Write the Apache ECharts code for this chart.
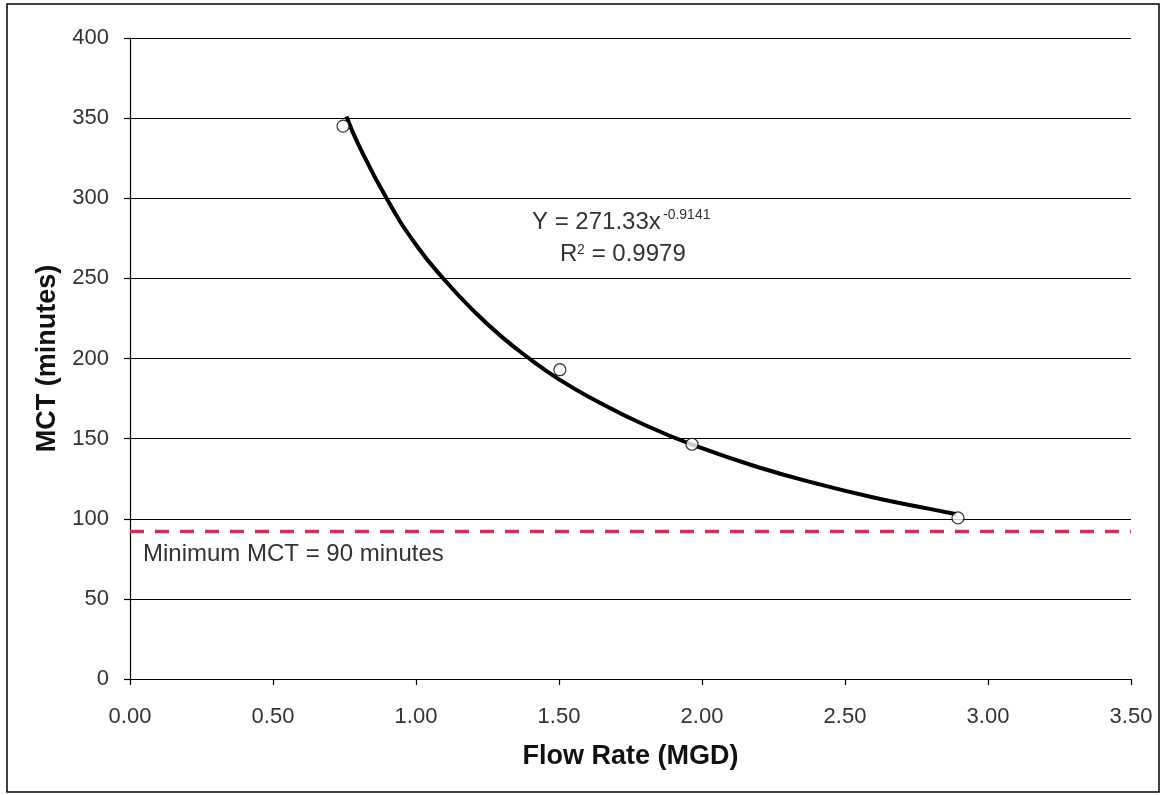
<!DOCTYPE html>
<html>
<head>
<meta charset="utf-8">
<script src="https://cdn.jsdelivr.net/npm/echarts@6/dist/echarts.min.js"></script>
<style>
html,body{margin:0;padding:0;background:#fff;}
#c{width:1164px;height:795px;}
</style>
</head>
<body>
<div id="c"></div>
<script>
// Observed data points (Flow Rate MGD, MCT minutes)
const pointX = [0.745, 1.503, 1.965, 2.895];
const pointY = [345, 193, 146.5, 100.5];

// Power trendline
const trendX = [0.757, 0.8, 0.9, 1.0, 1.1, 1.2, 1.3, 1.4, 1.5, 1.6, 1.8, 2.0, 2.2, 2.4, 2.6, 2.8, 2.89];
const trendY = [351, 333, 299, 271, 249, 230, 213.5, 199.5, 187, 176.5, 158.5, 144, 132, 122, 113.3, 106, 102.8];

// Minimum MCT reference line
const minLineX = [0, 3.5];
const minLineY = [92, 92];

// Axis ticks
const xTicks = [0, 0.5, 1, 1.5, 2, 2.5, 3, 3.5];
const yTicks = [0, 50, 100, 150, 200, 250, 300, 350, 400];

const FONT = '"Liberation Sans", Arial, sans-serif';
const TXT = '#333333';
const chart = echarts.init(document.getElementById('c'), null, {renderer: 'canvas'});

const option = {
  backgroundColor: '#ffffff',
  animation: false,
  grid: {left: 130, right: 33, top: 38, bottom: 116, containLabel: false},
  xAxis: {
    type: 'value',
    min: xTicks[0], max: xTicks[xTicks.length - 1], interval: 0.5,
    name: 'Flow Rate (MGD)', nameLocation: 'middle', nameGap: 64,
    nameTextStyle: {fontFamily: FONT, fontSize: 27, fontWeight: 'bold', color: '#111'},
    axisLine: {show: true, onZero: false, lineStyle: {color: '#000', width: 1.2}},
    axisTick: {show: true, inside: false, length: 6, lineStyle: {color: '#000', width: 1.2}},
    axisLabel: {fontFamily: FONT, fontSize: 22, color: TXT, margin: 27,
      formatter: v => v.toFixed(2)},
    splitLine: {show: false}
  },
  yAxis: {
    type: 'value',
    min: yTicks[0], max: yTicks[yTicks.length - 1], interval: 50,
    name: 'MCT (minutes)', nameLocation: 'middle', nameGap: 69, nameRotate: 90,
    nameTextStyle: {fontFamily: FONT, fontSize: 27, fontWeight: 'bold', color: '#111'},
    axisLine: {show: true, onZero: false, lineStyle: {color: '#000', width: 1.2}},
    axisTick: {show: true, inside: false, length: 6, lineStyle: {color: '#000', width: 1.2}},
    axisLabel: {fontFamily: FONT, fontSize: 22, color: TXT, margin: 21},
    splitLine: {show: true, lineStyle: {color: '#000', width: 1.2}}
  },
  series: [
    {
      name: 'Minimum MCT', type: 'line',
      data: minLineX.map((x, i) => [x, minLineY[i]]),
      symbol: 'none',
      lineStyle: {color: '#c8355c', width: 3.5, type: [14, 11]},
      z: 3
    },
    {
      name: 'Trend', type: 'line', smooth: true,
      data: trendX.map((x, i) => [x, trendY[i]]),
      symbol: 'none',
      lineStyle: {color: '#000', width: 4},
      z: 4
    },
    {
      name: 'MCT', type: 'scatter',
      data: pointX.map((x, i) => [x, pointY[i]]),
      symbol: 'circle', symbolSize: 12,
      itemStyle: {color: '#fff', borderColor: '#000', borderWidth: 1.2},
      z: 5
    }
  ],
  graphic: [
    {type: 'rect', shape: {x: 7, y: 4, width: 1152, height: 788},
      style: {fill: 'none', stroke: '#000', lineWidth: 1.5}, silent: true, z: 0},
    {type: 'text', x: 532, y: 222,
      style: {text: 'Y = 271.33x', font: '24px ' + FONT, fill: TXT, verticalAlign: 'middle'}},
    {type: 'text', x: 663, y: 215,
      style: {text: '-0.9141', font: '14px ' + FONT, fill: TXT, verticalAlign: 'middle'}},
    {type: 'text', x: 560, y: 254,
      style: {text: 'R', font: '24px ' + FONT, fill: TXT, verticalAlign: 'middle'}},
    {type: 'text', x: 577, y: 250,
      style: {text: '2', font: '14px ' + FONT, fill: TXT, verticalAlign: 'middle'}},
    {type: 'text', x: 585, y: 254,
      style: {text: ' = 0.9979', font: '24px ' + FONT, fill: TXT, verticalAlign: 'middle'}},
    {type: 'text', x: 143, y: 554,
      style: {text: 'Minimum MCT = 90 minutes', font: '24px ' + FONT, fill: TXT, verticalAlign: 'middle'}}
  ]
};
chart.setOption(option);
</script>
</body>
</html>
